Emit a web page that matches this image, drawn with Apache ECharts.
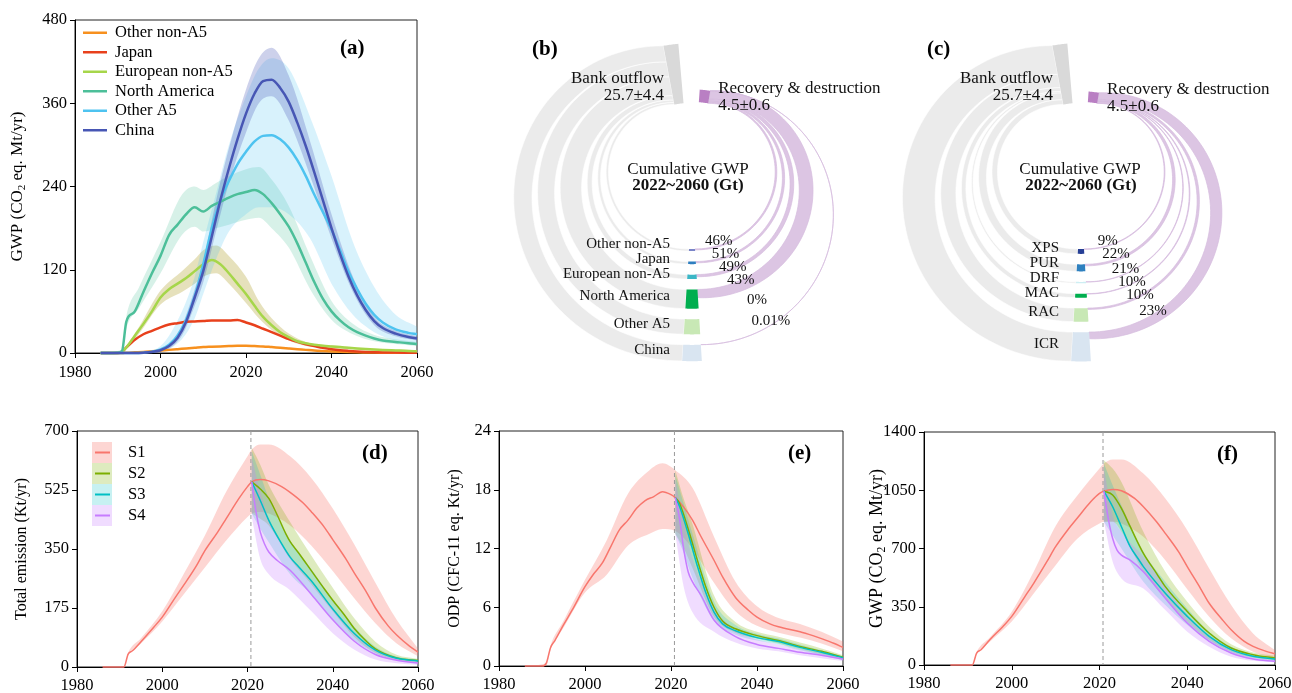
<!DOCTYPE html>
<html>
<head>
<meta charset="utf-8">
<title>HFC bank outflow and emissions</title>
<script src="https://cdn.jsdelivr.net/npm/echarts@6.0.0/dist/echarts.min.js"></script>
<style>
  html, body { margin: 0; padding: 0; background: #fff; }
  #chart { width: 1292px; height: 693px; }
</style>
</head>
<body>
<div id="chart"></div>
<script>
const FONT = '"Liberation Serif", "Times New Roman", serif';

// ---------- (a) GWP by region (CO2 eq. Mt/yr) ----------
const yearsA = [1986, 1990, 1991, 1992, 1994, 1996, 1998, 2000, 2002, 2004, 2006, 2008, 2010, 2012, 2014, 2016, 2018, 2020, 2022, 2024, 2026, 2028, 2030, 2032, 2034, 2036, 2038, 2040, 2042, 2044, 2046, 2048, 2050, 2052, 2055, 2058, 2060];
const regionNames = ['Other non-A5', 'Japan', 'European non-A5', 'North America', 'Other A5', 'China'];
const gwpOtherNonA5 = [0, 0, 0, 0.5, 1, 1.5, 2.5, 3.5, 4.5, 5.5, 6.5, 7.5, 8.5, 9, 9.5, 10, 10.5, 10.5, 10, 9.5, 8.5, 7.5, 6.5, 5.5, 4.5, 3.5, 2.8, 2.2, 1.7, 1.3, 1, 0.8, 0.6, 0.5, 0.4, 0.3, 0.2];
const gwpJapan = [0, 0, 2, 8, 19, 27, 32, 37, 41, 43, 45, 45.5, 46, 47, 47, 47, 47.5, 44, 40, 35, 30, 25, 20, 16, 12.5, 10, 7.5, 5.5, 4, 3, 2.2, 1.6, 1.2, 0.9, 0.6, 0.4, 0.3];
const gwpEurope = [0, 0, 2, 8, 25, 42, 60, 80, 92, 100, 108, 118, 128, 134, 128, 115, 100, 85, 68, 52, 40, 30, 23, 17, 14, 12, 10.5, 9.5, 8.5, 7.5, 6.5, 5.7, 5, 4.4, 3.7, 3, 2.5];
const gwpNorthAmerica = [0, 0.5, 3, 45, 60, 88, 115, 140, 170, 185, 200, 210, 204, 212, 218, 224, 229, 232, 235, 229, 216, 200, 182, 158, 130, 102, 78, 60, 47, 37, 30, 25, 21, 18, 16, 14, 13];
const gwpOtherA5 = [0, 0, 0, 0, 0, 0.5, 2, 5, 12, 25, 48, 82, 128, 180, 220, 248, 272, 290, 305, 313, 314, 308, 296, 278, 255, 228, 203, 178, 148, 117, 92, 71, 55, 44, 34, 29, 27];
const gwpChina = [0, 0, 0, 0, 0, 0.5, 1.5, 4, 10, 22, 45, 80, 118, 168, 220, 266, 308, 345, 374, 392, 394, 382, 362, 332, 298, 260, 220, 180, 143, 110, 83, 62, 46, 36, 28, 23, 21];

const bandYearsA = [1986, 1991, 1992, 1995, 2000, 2005, 2008, 2010, 2013, 2016, 2020, 2023, 2026, 2030, 2035, 2040, 2045, 2050, 2055, 2060];
const europeLow = [0, 0, 5, 28, 70, 88, 100, 110, 115, 100, 72, 50, 33, 18, 9, 7, 5, 3, 2, 1];
const europeHigh = [0, 2, 10, 38, 90, 118, 135, 148, 155, 140, 110, 75, 50, 28, 14, 11, 8, 6, 5, 4];
const northAmericaLow = [0, 2, 35, 65, 115, 170, 182, 175, 180, 185, 192, 195, 180, 152, 92, 48, 27, 17, 13, 10];
const northAmericaHigh = [0, 5, 52, 95, 160, 228, 240, 235, 245, 255, 265, 268, 250, 212, 140, 75, 42, 26, 20, 16];
const otherA5Low = [0, 0, 0, 0, 2, 20, 50, 85, 135, 175, 200, 210, 210, 200, 165, 100, 55, 30, 18, 14];
const otherA5High = [0, 0, 0, 1, 10, 60, 110, 160, 230, 300, 370, 410, 425, 410, 340, 255, 160, 95, 55, 38];
const chinaLow = [0, 0, 0, 0, 2, 25, 68, 102, 175, 245, 318, 360, 370, 335, 255, 165, 88, 40, 24, 18];
const chinaHigh = [0, 0, 0, 0.5, 5, 40, 92, 132, 220, 295, 380, 425, 440, 400, 305, 200, 110, 52, 32, 24];

// ---------- (b) / (c) cumulative GWP 2022~2060 (Gt) ----------
const ringRegions = ['Other non-A5', 'Japan', 'European non-A5', 'North America', 'Other A5', 'China'];
const ringRegionOutflow = [0.9, 1.1, 1.9, 8.2, 6.5, 7.0];
const ringRegionRecovered = [46, 51, 49, 43, 0, 0.01];
const ringSectors = ['XPS', 'PUR', 'DRF', 'MAC', 'RAC', 'ICR'];
const ringSectorOutflow = [2.1, 3.0, 0.6, 1.7, 5.8, 12.5];
const ringSectorRecovered = [9, 22, 21, 10, 10, 23];
const bankText = '25.7±4.4';
const recoveryText = '4.5±0.6';

// ---------- (d)(e)(f) scenarios ----------
const splitYear = 2020.8;
const scenarios = ['S1', 'S2', 'S3', 'S4'];

const yearsD1 = [1986, 1991, 1992, 1993, 1995, 1998, 2000, 2003, 2005, 2008, 2010, 2013, 2015, 2018, 2020, 2021, 2023, 2025, 2028, 2030, 2033, 2035, 2038, 2040, 2043, 2045, 2048, 2050, 2053, 2055, 2058, 2060];
const emisS1 = [0, 0, 38, 48, 75, 118, 148, 205, 242, 300, 345, 400, 440, 500, 535, 549, 556, 552, 535, 518, 487, 460, 415, 378, 322, 280, 220, 175, 122, 95, 62, 44];
const yearsD2 = [2021, 2023, 2025, 2027, 2029, 2030, 2032, 2035, 2038, 2040, 2043, 2045, 2048, 2050, 2055, 2060];
const emisS2 = [549, 528, 500, 450, 395, 372, 338, 285, 232, 198, 150, 115, 75, 54, 27, 19];
const yearsD3 = [2021, 2023, 2025, 2028, 2030, 2032, 2035, 2040, 2045, 2050, 2055, 2060];
const emisS3 = [549, 494, 435, 366, 326, 297, 255, 172, 100, 50, 26, 18];
const yearsD4 = [2021, 2022, 2023, 2024, 2025, 2027, 2030, 2035, 2040, 2045, 2050, 2055, 2060];
const emisS4 = [549, 460, 400, 365, 341, 316, 287, 215, 140, 77, 37, 20, 12];
const bandYearsD1 = [1986, 1991, 1992, 1995, 2000, 2005, 2010, 2015, 2020, 2021, 2023, 2025, 2030, 2035, 2040, 2045, 2050, 2055, 2060];
const emisS1Low = [0, 0, 35, 70, 135, 215, 295, 375, 445, 455, 460, 455, 420, 360, 285, 205, 130, 70, 32];
const emisS1High = [0, 0, 42, 85, 165, 275, 390, 520, 625, 645, 660, 660, 625, 560, 470, 365, 250, 140, 55];
const bandYearsScen = [2021, 2023, 2025, 2030, 2035, 2040, 2045, 2050, 2055, 2060];
const emisS2Low = [455, 440, 420, 320, 245, 165, 90, 42, 20, 13];
const emisS2High = [650, 600, 540, 430, 330, 235, 145, 75, 36, 24];
const emisS3Low = [455, 410, 370, 275, 215, 140, 80, 40, 20, 13];
const emisS3High = [640, 570, 500, 375, 290, 200, 120, 60, 31, 22];
const emisS4Low = [445, 320, 275, 228, 165, 100, 52, 22, 11, 6];
const emisS4High = [620, 520, 440, 330, 250, 175, 100, 50, 27, 16];

const yearsE1 = [1986, 1990, 1991, 1992, 1993, 1995, 1997, 2000, 2002, 2004, 2006, 2008, 2010, 2012, 2014, 2016, 2018, 2020, 2021, 2023, 2025, 2027, 2030, 2032, 2035, 2038, 2040, 2043, 2045, 2050, 2053, 2055, 2058, 2060];
const odpS1 = [0, 0, 0.3, 1.9, 2.6, 4.2, 5.7, 8.1, 9.4, 10.5, 12.2, 13.9, 14.9, 16.1, 16.9, 17.3, 17.8, 17.5, 17.2, 16.2, 14.9, 13.2, 10.8, 9.1, 7.0, 5.7, 5.0, 4.3, 4.0, 3.5, 3.1, 2.8, 2.3, 1.9];
const yearsE23 = [2021, 2022, 2024, 2026, 2028, 2030, 2032, 2035, 2040, 2045, 2050, 2055, 2060];
const odpS2 = [17.2, 16.6, 14.0, 11.0, 8.2, 6.0, 4.6, 3.8, 3.1, 2.6, 2.0, 1.5, 0.9];
const odpS3 = [17.2, 16.3, 13.5, 10.4, 7.6, 5.5, 4.3, 3.6, 2.9, 2.5, 1.9, 1.4, 0.85];
const yearsE4 = [2021, 2022, 2023, 2024, 2025, 2027, 2030, 2035, 2040, 2045, 2050, 2055, 2060];
const odpS4 = [17.2, 15.0, 11.8, 9.6, 8.6, 7.2, 4.7, 3.0, 2.2, 1.8, 1.4, 1.1, 0.7];
const bandYearsE1 = [1986, 1991, 1992, 1995, 2000, 2005, 2010, 2015, 2018, 2021, 2025, 2030, 2035, 2040, 2045, 2050, 2055, 2060];
const odpS1Low = [0, 0, 1.7, 3.9, 7.5, 9.3, 12.3, 13.5, 14.0, 13.8, 12.0, 8.5, 5.6, 4.1, 3.4, 2.9, 2.3, 1.5];
const odpS1High = [0, 0.3, 2.1, 4.6, 8.8, 12.8, 17.6, 20.0, 20.7, 20.0, 18.2, 13.2, 8.6, 6.1, 4.9, 4.3, 3.5, 2.5];
const odpS2Low = [13.5, 12.0, 10.0, 5.0, 3.4, 2.8, 2.3, 1.7, 1.2, 0.7];
const odpS2High = [20.0, 17.0, 14.5, 7.2, 4.5, 3.5, 3.0, 2.4, 1.8, 1.1];
const odpS3Low = [13.5, 11.5, 9.0, 4.6, 3.2, 2.6, 2.2, 1.6, 1.1, 0.6];
const odpS3High = [19.5, 16.5, 13.5, 6.6, 4.2, 3.3, 2.8, 2.2, 1.6, 1.0];
const odpS4Low = [13.5, 8.0, 5.5, 3.5, 2.4, 1.8, 1.5, 1.1, 0.8, 0.5];
const odpS4High = [19.0, 14.5, 11.0, 6.0, 3.7, 2.7, 2.2, 1.7, 1.3, 0.9];

const yearsF1 = [1986, 1991, 1992, 1993, 1995, 1998, 2000, 2003, 2005, 2008, 2010, 2013, 2015, 2018, 2020, 2021, 2023, 2025, 2028, 2030, 2033, 2035, 2038, 2040, 2043, 2045, 2048, 2050, 2053, 2055, 2058, 2060];
const gwpS1 = [0, 0, 72, 92, 152, 232, 292, 411, 491, 621, 711, 820, 885, 981, 1031, 1045, 1055, 1047, 1001, 951, 861, 791, 681, 591, 461, 371, 272, 212, 142, 112, 82, 68];
const yearsF2 = [2021, 2023, 2025, 2027, 2030, 2033, 2035, 2040, 2045, 2050, 2055, 2060];
const gwpS2 = [1045, 1021, 941, 831, 671, 551, 471, 322, 192, 102, 62, 42];
const yearsF3 = [2021, 2023, 2025, 2027, 2029, 2030, 2035, 2040, 2045, 2050, 2055, 2060];
const gwpS3 = [1045, 951, 831, 711, 631, 591, 431, 292, 172, 92, 52, 36];
const yearsF4 = [2021, 2022, 2023, 2024, 2025, 2027, 2030, 2035, 2040, 2045, 2050, 2055, 2060];
const gwpS4 = [1045, 880, 760, 690, 660, 630, 560, 401, 252, 142, 72, 36, 22];
const bandYearsF1 = [1986, 1991, 1992, 1995, 2000, 2005, 2010, 2015, 2020, 2021, 2023, 2025, 2030, 2035, 2040, 2045, 2050, 2055, 2060];
const gwpS1Low = [0, 0, 65, 140, 262, 430, 600, 760, 850, 860, 862, 850, 770, 630, 455, 290, 160, 80, 40];
const gwpS1High = [0, 0, 78, 165, 320, 560, 835, 1020, 1180, 1210, 1235, 1235, 1150, 1000, 810, 580, 360, 190, 90];
const gwpS2Low = [860, 860, 800, 560, 400, 260, 150, 80, 45, 30];
const gwpS2High = [1230, 1180, 1100, 800, 560, 380, 230, 125, 75, 55];
const gwpS3Low = [860, 780, 700, 500, 360, 240, 140, 70, 40, 25];
const gwpS3High = [1210, 1080, 960, 680, 500, 340, 200, 110, 62, 45];
const gwpS4Low = [860, 620, 520, 460, 330, 200, 110, 50, 25, 15];
const gwpS4High = [1180, 900, 800, 650, 470, 300, 170, 90, 48, 30];

// ---------- styles ----------
const regionColors = ['#f7901e', '#e8401c', '#a6d64a', '#4cbf99', '#4ec3f0', '#4756b4'];
const scenColors = ['#f8766d', '#7cae00', '#00bfc4', '#c77cff'];
const scenBands = ['rgba(248,118,109,0.3)', 'rgba(124,174,0,0.25)', 'rgba(0,191,196,0.22)', 'rgba(199,124,255,0.27)'];
const ringRegionColors = ['#7a85c8', '#2e7ebf', '#3cb6c6', '#00ae4f', '#c8e8b5', '#d9e5f1'];
const ringSectorColors = ['#263f95', '#2e80bf', '#cdeef3', '#00ae4f', '#c8e8b5', '#d9e5f1'];
// ring geometry, in Gt units of the hidden axes
const RING = { stubStart: 21, stubGap: 4.5, stubHalf: 3.5, greyTop: 41.6, purpleTop: 42,
               greyNode: [95, 100.5], purpleNode: [80.5, 86], pctAngle: 303, widen: 0.5 };

// monotone-ish cubic path through pixel points
function smoothPath(pts) {
  const n = pts.length, d = [], m = [];
  for (let i = 0; i < n - 1; i++) {
    const dx = pts[i + 1][0] - pts[i][0];
    d.push(dx === 0 ? 0 : (pts[i + 1][1] - pts[i][1]) / dx);
  }
  for (let i = 0; i < n; i++) {
    if (i === 0) m.push(d[0]);
    else if (i === n - 1) m.push(d[n - 2]);
    else if (d[i - 1] * d[i] <= 0) m.push(0);
    else {
      const s = (d[i - 1] + d[i]) / 2, lim = 3 * Math.min(Math.abs(d[i - 1]), Math.abs(d[i]));
      m.push(Math.sign(s) * Math.min(Math.abs(s), lim));
    }
  }
  let s = '';
  for (let i = 0; i < n - 1; i++) {
    const h = (pts[i + 1][0] - pts[i][0]) / 3;
    s += ' C' + (pts[i][0] + h) + ',' + (pts[i][1] + m[i] * h) + ' ' +
         (pts[i + 1][0] - h) + ',' + (pts[i + 1][1] - m[i + 1] * h) + ' ' +
         pts[i + 1][0] + ',' + pts[i + 1][1];
  }
  return s;
}

function bandSeries(name, gi, years, low, high, color) {
  return {
    name, type: 'custom', xAxisIndex: gi, yAxisIndex: gi, silent: true, z: 1,
    itemStyle: { color },
    data: years.map((y, i) => [y, low[i], high[i]]),
    encode: { x: 0, y: [1, 2] },
    renderItem(params, api) {
      if (params.dataIndex !== 0) return null;
      const up = years.map((y, i) => api.coord([y, high[i]]));
      const lo = years.map((y, i) => api.coord([y, low[i]])).reverse();
      const path = 'M' + up[0][0] + ',' + up[0][1] + smoothPath(up) +
                   ' L' + lo[0][0] + ',' + lo[0][1] + smoothPath(lo) + ' Z';
      return { type: 'path', shape: { pathData: path }, style: { fill: color } };
    }
  };
}

function lineSeries(name, gi, years, vals, color, width, marker) {
  return {
    name, type: 'custom', xAxisIndex: gi, yAxisIndex: gi, silent: true, z: 3,
    itemStyle: { color },
    data: years.map((y, i) => [y, vals[i]]),
    encode: { x: 0, y: 1 },
    renderItem(params, api) {
      if (params.dataIndex !== 0) return null;
      const pts = years.map((y, i) => api.coord([y, vals[i]]));
      const kids = [];
      if (marker != null) {
        const x = api.coord([marker, 0])[0], cs = params.coordSys;
        kids.push({ type: 'line', shape: { x1: x, y1: cs.y, x2: x, y2: cs.y + cs.height },
          style: { stroke: '#9a9a9a', lineWidth: 1, lineDash: [4, 3] } });
      }
      kids.push({ type: 'path', shape: { pathData: 'M' + pts[0][0] + ',' + pts[0][1] + smoothPath(pts) },
        style: { fill: 'none', stroke: color, lineWidth: width, lineJoin: 'round' } });
      return { type: 'group', children: kids };
    }
  };
}

// ---------- ring (b, c) geometry ----------
const DEG = Math.PI / 180;
function polar(r, a) { return [r * Math.cos(a * DEG), r * Math.sin(a * DEG)]; }
function sectorPts(r0, r1, a0, a1) {
  const pts = [], n = 12;
  for (let k = 0; k <= n; k++) pts.push(polar(r0, a0 + (a1 - a0) * k / n));
  for (let k = n; k >= 0; k--) pts.push(polar(r1, a0 + (a1 - a0) * k / n));
  return pts;
}
// half ring from a stub at the bottom (radius rb) to a node at the top (radius rt)
function edgePoint(rb, rt, aB, aT, side, s) {
  const R = (rb + rt) / 2, c = (rt - rb) / 2;
  const phi = (side < 0 ? 270 - 180 * s : -90 + 180 * s) * DEG;
  const pb = polar(rb, aB), pt = polar(rt, aT);
  return [R * Math.cos(phi) + pb[0] * (1 - s) + pt[0] * s,
          c + R * Math.sin(phi) + (pb[1] + rb) * (1 - s) + (pt[1] - rt) * s];
}
function flowPts(rb, rt, t, aB, aT, side, widen) {
  const n = 72, inner = [], outer = [];
  for (let k = 0; k <= n; k++) {
    const s = k / n;
    const p = edgePoint(rb, rt, aB, aT, side, s);
    const q = edgePoint(rb + t, rt + t, aB, aT, side, s);
    const w = 1 + widen * Math.sin(Math.PI * s);
    inner.push(p);
    outer.push([p[0] + (q[0] - p[0]) * w, p[1] + (q[1] - p[1]) * w]);
  }
  return inner.concat(outer.reverse());
}
function ringLayout(values, pcts) {
  const stubIn = [], greyTop = [], purpleTop = [], purple = [];
  let r = RING.stubStart, g = RING.greyTop, p = RING.purpleTop;
  values.forEach((v, i) => {
    stubIn.push(r); r += v + RING.stubGap;
    greyTop.push(g); g += v;
    const w = v * pcts[i] / 100;
    purple.push(w); purpleTop.push(p); p += w;
  });
  return { stubIn, greyTop, purpleTop, purple, greyEnd: g, purpleEnd: p };
}
function txt(text, x, y, size, align) {
  return { type: 'text', z2: 100, x, y, style: {
    text, font: size + 'px ' + FONT, fill: '#111', lineHeight: size,
    align, textAlign: align, verticalAlign: 'middle', textVerticalAlign: 'middle' } };
}
function ringSeries(gi, names, values, pcts, colors) {
  const L = ringLayout(values, pcts);
  return {
    type: 'custom', xAxisIndex: gi, yAxisIndex: gi, silent: true, clip: false,
    data: values.map((v, i) => [i, v]),
    encode: { x: 0, y: 1 },
    renderItem(params, api) {
      const i = params.dataIndex, v = values[i], r0 = L.stubIn[i];
      const px = pts => pts.map(q => api.coord(q));
      // name rows: start at each stub, keep at least 15px apart going inwards
      const labY = [];
      for (let j = values.length - 1; j >= 0; j--) {
        const y = api.coord([0, -(L.stubIn[j] + values[j] / 2)])[1] - 3;
        labY[j] = j === values.length - 1 ? y : Math.min(y, labY[j + 1] - 15);
      }
      // percent rows: along a ray, at least 13px apart going outwards
      const pctPos = [];
      for (let j = 0; j < values.length; j++) {
        const q = api.coord(polar(L.stubIn[j], RING.pctAngle));
        if (j > 0) q[1] = Math.max(q[1], pctPos[j - 1][1] + 13);
        pctPos.push(q);
      }
      const kids = [{
        type: 'polygon',
        shape: { points: px(flowPts(r0, L.greyTop[i], v, 270 - RING.stubHalf, RING.greyNode[1], -1, 0)) },
        style: { fill: '#ebebeb', stroke: '#fff', lineWidth: 0.6 }
      }];
      if (pcts[i] > 0) kids.push({
        type: 'polygon',
        shape: { points: px(flowPts(r0, L.purpleTop[i], L.purple[i], 270 + RING.stubHalf, RING.purpleNode[0], 1, RING.widen)) },
        style: { fill: '#dcc5e3', stroke: '#d6bcde', lineWidth: 0.7 }
      });
      kids.push({ type: 'polygon', z2: 50,
        shape: { points: px(sectorPts(r0, r0 + v, 270 - RING.stubHalf, 270 + RING.stubHalf)) },
        style: { fill: colors[i] } });
      const cx = api.coord([0, 0])[0];
      kids.push(txt(names[i], cx - 22, labY[i], 15, 'right'));
      kids.push(txt(pcts[i] + '%', pctPos[i][0], pctPos[i][1], 15, 'center'));
      if (i === 0) {
        kids.push({ type: 'polygon', z2: 60,
          shape: { points: px(sectorPts(RING.greyTop, L.greyEnd, RING.greyNode[0], RING.greyNode[1])) },
          style: { fill: '#d9d9d9' } });
        kids.push({ type: 'polygon', z2: 60,
          shape: { points: px(sectorPts(RING.purpleTop, L.purpleEnd, RING.purpleNode[0], RING.purpleNode[1])) },
          style: { fill: '#b97fc3' } });
        const bl = api.coord(polar(RING.greyTop + (L.greyEnd - RING.greyTop) * 0.3, RING.greyNode[1]));
        kids.push(txt('Bank outflow\n' + bankText, bl[0] - 7, bl[1], 17, 'right'));
        const rl = api.coord(polar((RING.purpleTop + L.purpleEnd) / 2, RING.purpleNode[0]));
        kids.push(txt('Recovery & destruction\n' + recoveryText, rl[0] + 9, rl[1], 17, 'left'));
      }
      return { type: 'group', children: kids };
    }
  };
}

// ---------- axes ----------
const grids = [
  { left: 75, top: 20, width: 342, height: 333 },
  { left: 77, top: 431, width: 341, height: 236 },
  { left: 499, top: 431, width: 344, height: 235 },
  { left: 924, top: 432, width: 351, height: 233 },
  { left: 517, top: 25, width: 350, height: 350 },
  { left: 906, top: 25, width: 350, height: 350 }
].map((g, i) => Object.assign({ show: i < 4, borderColor: '#222', borderWidth: 1, containLabel: false, outerBoundsMode: 'none' }, g));

const plain = v => String(v);
function timeAxis(gi, margin) {
  return {
    type: 'value', gridIndex: gi, min: 1980, max: 2060, interval: 20,
    axisLine: { onZero: false, lineStyle: { color: '#000', width: 1 } },
    axisTick: { length: 5, lineStyle: { color: '#000' } },
    axisLabel: { color: '#000', fontFamily: FONT, fontSize: 16.5, margin, formatter: plain },
    splitLine: { show: false }
  };
}
function valAxis(gi, max, interval, name, nameSize, nameGap) {
  return {
    type: 'value', gridIndex: gi, min: 0, max, interval,
    name, nameLocation: 'middle', nameGap, nameRotate: 90, nameMoveOverlap: false,
    nameTextStyle: { color: '#000', fontFamily: FONT, fontSize: nameSize,
      rich: { s: { fontFamily: FONT, fontSize: nameSize * 0.65, color: '#000', padding: [nameSize * 0.55, 0, 0, 0] } } },
    axisLine: { lineStyle: { color: '#000', width: 1 } },
    axisTick: { length: 5, lineStyle: { color: '#000' } },
    axisLabel: { color: '#000', fontFamily: FONT, fontSize: 16.5, margin: 8, formatter: plain },
    splitLine: { show: false }
  };
}
const hiddenAxis = gi => ({ type: 'value', gridIndex: gi, min: -75, max: 75, show: false, splitLine: { show: false } });

// ---------- series ----------
const series = [
  bandSeries('European non-A5 band', 0, bandYearsA, europeLow, europeHigh, 'rgba(196,184,96,0.42)'),
  bandSeries('North America band', 0, bandYearsA, northAmericaLow, northAmericaHigh, 'rgba(75,191,152,0.22)'),
  bandSeries('Other A5 band', 0, bandYearsA, otherA5Low, otherA5High, 'rgba(79,197,242,0.22)'),
  bandSeries('China band', 0, bandYearsA, chinaLow, chinaHigh, 'rgba(74,89,184,0.28)')
];
[gwpOtherNonA5, gwpJapan, gwpEurope, gwpNorthAmerica, gwpOtherA5, gwpChina].forEach((vals, i) => {
  series.push(lineSeries(regionNames[i], 0, yearsA, vals, regionColors[i], 2.5));
});

const scenPanels = [
  { gi: 1, years: [yearsD1, yearsD2, yearsD3, yearsD4], vals: [emisS1, emisS2, emisS3, emisS4],
    bandYears: [bandYearsD1, bandYearsScen, bandYearsScen, bandYearsScen],
    low: [emisS1Low, emisS2Low, emisS3Low, emisS4Low], high: [emisS1High, emisS2High, emisS3High, emisS4High] },
  { gi: 2, years: [yearsE1, yearsE23, yearsE23, yearsE4], vals: [odpS1, odpS2, odpS3, odpS4],
    bandYears: [bandYearsE1, bandYearsScen, bandYearsScen, bandYearsScen],
    low: [odpS1Low, odpS2Low, odpS3Low, odpS4Low], high: [odpS1High, odpS2High, odpS3High, odpS4High] },
  { gi: 3, years: [yearsF1, yearsF2, yearsF3, yearsF4], vals: [gwpS1, gwpS2, gwpS3, gwpS4],
    bandYears: [bandYearsF1, bandYearsScen, bandYearsScen, bandYearsScen],
    low: [gwpS1Low, gwpS2Low, gwpS3Low, gwpS4Low], high: [gwpS1High, gwpS2High, gwpS3High, gwpS4High] }
];
scenPanels.forEach(p => {
  scenarios.forEach((s, k) => series.push(bandSeries(s + ' band', p.gi, p.bandYears[k], p.low[k], p.high[k], scenBands[k])));
  scenarios.forEach((s, k) => series.push(lineSeries(s, p.gi, p.years[k], p.vals[k], scenColors[k], 1.5, k === 0 ? splitYear : null)));
});

series.push(ringSeries(4, ringRegions, ringRegionOutflow, ringRegionRecovered, ringRegionColors));
series.push(ringSeries(5, ringSectors, ringSectorOutflow, ringSectorRecovered, ringSectorColors));

const legendText = { fontFamily: FONT, fontSize: 16.5, color: '#000' };
const tag = (text, x, y) => ({ type: 'text', x, y, style: { text, font: 'bold 21px ' + FONT, fill: '#000' } });
const centerText = (text, x, y, bold) => ({ type: 'text', x, y, style: {
  text, font: (bold ? 'bold ' : '') + '17px ' + FONT, fill: '#111',
  textAlign: 'center', align: 'center', textVerticalAlign: 'middle', verticalAlign: 'middle' } });

const option = {
  animation: false,
  backgroundColor: '#fff',
  textStyle: { fontFamily: FONT },
  grid: grids,
  xAxis: [timeAxis(0, 11), timeAxis(1, 10), timeAxis(2, 10), timeAxis(3, 10), hiddenAxis(4), hiddenAxis(5)],
  yAxis: [
    valAxis(0, 480, 120, 'GWP (CO{s|2} eq. Mt/yr)', 17, 47),
    valAxis(1, 700, 175, 'Total emission (Kt/yr)', 16, 47),
    valAxis(2, 24, 6, 'ODP (CFC-11 eq. Kt/yr)', 16, 36),
    valAxis(3, 1400, 350, 'GWP (CO{s|2} eq. Mt/yr)', 18, 36),
    hiddenAxis(4), hiddenAxis(5)
  ],
  legend: [
    { left: 83, top: 23, orient: 'vertical', padding: 0, itemWidth: 24, itemHeight: 19.5, itemGap: 0,
      icon: 'path://M0,0H96V10H0Z', selectedMode: false, data: regionNames,
      textStyle: Object.assign({ padding: [0, 0, 0, 3], lineHeight: 19.5 }, legendText) },
    { left: 92, top: 442, orient: 'vertical', padding: 0, itemWidth: 20, itemHeight: 21, itemGap: 0,
      icon: 'rect', selectedMode: false, data: scenarios.map(s => s + ' band'),
      formatter: () => '', textStyle: { fontSize: 8, lineHeight: 21, color: 'rgba(0,0,0,0)' }, itemStyle: { borderWidth: 0 } },
    { left: 95, top: 442, orient: 'vertical', padding: 0, itemWidth: 15, itemHeight: 21, itemGap: 0, z: 5,
      icon: 'path://M0,0H75V10H0Z', selectedMode: false, data: scenarios,
      textStyle: Object.assign({ padding: [0, 0, 0, 13], lineHeight: 21 }, legendText) }
  ],
  graphic: [
    tag('(a)', 340, 38), tag('(b)', 532, 39), tag('(c)', 927, 39),
    tag('(d)', 362, 443), tag('(e)', 788, 443), tag('(f)', 1217, 444),
    centerText('Cumulative GWP', 688, 170, false), centerText('2022~2060 (Gt)', 688, 186, true),
    centerText('Cumulative GWP', 1080, 170, false), centerText('2022~2060 (Gt)', 1081, 186, true)
  ],
  series
};

const chart = echarts.init(document.getElementById('chart'));
chart.setOption(option);
window.addEventListener('resize', () => chart.resize());
</script>
</body>
</html>
